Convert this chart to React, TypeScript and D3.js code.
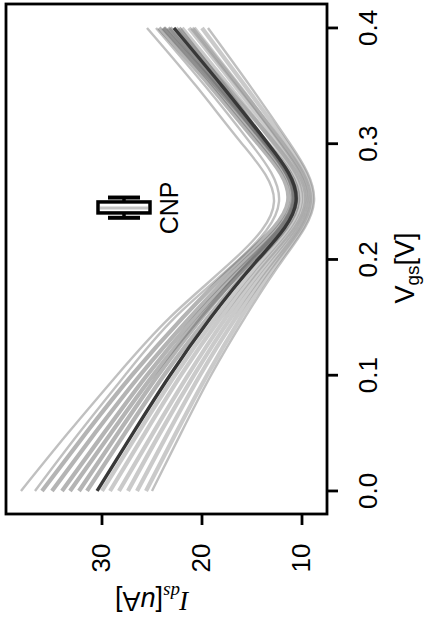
import React, { useEffect, useRef } from "react";
import * as d3 from "d3";

// Gate voltage samples shared by every device curve
const vgs = [0, 0.05, 0.1, 0.15, 0.2, 0.25, 0.3, 0.35, 0.4];

// Ids [uA] per device
const lightCurves = [
  [38.1, 33.4, 28.5, 23.2, 16.8, 12.8, 16.0, 20.6, 25.5],
  [36.7, 32.3, 27.7, 22.7, 16.3, 12.3, 15.1, 19.7, 24.6],
  [25.0, 22.1, 19.1, 15.7, 11.9, 8.8, 11.2, 15.2, 19.4],
];
const upperCurves = [
  [36.0, 31.6, 27.0, 21.9, 16.1, 11.4, 14.4, 19.2, 24.3],
  [35.0, 30.7, 26.2, 21.2, 15.6, 11.0, 14.0, 18.8, 23.9],
  [34.0, 29.8, 25.5, 20.7, 15.2, 10.8, 13.7, 18.3, 23.2],
  [33.2, 29.1, 24.9, 20.2, 14.9, 10.6, 13.6, 18.6, 23.8],
  [32.3, 28.4, 24.4, 20.0, 15.0, 10.9, 13.5, 17.8, 22.3],
  [31.5, 27.7, 23.8, 19.4, 14.4, 10.4, 13.4, 18.3, 23.4],
];
const lowerCurves = [
  [30.0, 26.4, 22.7, 18.6, 13.9, 10.1, 12.8, 17.3, 22.0],
  [29.2, 25.7, 22.1, 18.1, 13.5, 9.8, 12.7, 17.6, 22.6],
  [28.3, 24.9, 21.4, 17.6, 13.2, 9.6, 12.3, 16.7, 21.3],
  [27.4, 24.2, 20.8, 17.1, 12.8, 9.4, 12.0, 16.3, 20.8],
  [26.5, 23.4, 20.2, 16.6, 12.5, 9.2, 11.9, 16.4, 21.0],
  [25.6, 22.6, 19.5, 16.1, 12.2, 9.0, 11.5, 15.7, 20.0],
];
const meanCurve = [30.5, 26.9, 23.2, 19.1, 14.4, 10.6, 13.4, 18.0, 22.8];

// CNP boxplot: lower whisker, Q1, median, Q3, upper whisker (Vgs)
const cnpStats = [0.236, 0.2402, 0.2445, 0.2497, 0.2535];
const cnpAt = 27.8; // Ids position of the box

const vgsTicks = [0, 0.1, 0.2, 0.3, 0.4];
const idsTicks = [10, 20, 30];
const vgsLim: [number, number] = [-0.0199, 0.4207];
const idsLim: [number, number] = [7.5, 39.6];

const W = 426;
const H = 628;
const SANS = "'Liberation Sans', Arial, Helvetica, sans-serif";

export default function App() {
  const svgRef = useRef<SVGSVGElement>(null);

  useEffect(() => {
    if (!svgRef.current) return;
    const svg = d3.select(svgRef.current);
    svg.selectAll("*").remove();

    // plot is turned on its side: Vgs runs up the page, Ids runs right to left
    const y = d3.scaleLinear().domain(vgsLim).range([514, 4]);
    const x = d3.scaleLinear().domain(idsLim).range([327, 6]);

    const line = d3
      .line<number>()
      .x((d) => x(d))
      .y((_, i) => y(vgs[i]))
      .curve(d3.curveNatural);

    const curves = svg.append("g").attr("fill", "none").attr("stroke-linecap", "butt");

    curves
      .selectAll(".light")
      .data(lightCurves)
      .join("path")
      .attr("class", "light")
      .attr("d", line)
      .attr("stroke", "#b0b0b0")
      .attr("stroke-opacity", 0.8)
      .attr("stroke-width", 2.4);

    curves
      .selectAll(".lower")
      .data(lowerCurves)
      .join("path")
      .attr("class", "lower")
      .attr("d", line)
      .attr("stroke", "#8a8a8a")
      .attr("stroke-opacity", 0.45)
      .attr("stroke-width", 4.2);

    curves
      .selectAll(".upper")
      .data(upperCurves)
      .join("path")
      .attr("class", "upper")
      .attr("d", line)
      .attr("stroke", "#6a6a6a")
      .attr("stroke-opacity", 0.5)
      .attr("stroke-width", 4.2);

    curves
      .append("path")
      .attr("d", line(meanCurve))
      .attr("stroke", "#383838")
      .attr("stroke-width", 3.4);

    // frame
    svg
      .append("rect")
      .attr("x", x(idsLim[1]))
      .attr("y", y(vgsLim[1]))
      .attr("width", x(idsLim[0]) - x(idsLim[1]))
      .attr("height", y(vgsLim[0]) - y(vgsLim[1]))
      .attr("fill", "none")
      .attr("stroke", "#000")
      .attr("stroke-width", 2.8);

    // Vgs axis (right side)
    const right = x(idsLim[0]);
    const vAxis = svg.append("g");
    vAxis
      .selectAll("line")
      .data(vgsTicks)
      .join("line")
      .attr("x1", right)
      .attr("x2", right + 11)
      .attr("y1", (d) => y(d))
      .attr("y2", (d) => y(d))
      .attr("stroke", "#000")
      .attr("stroke-width", 2.8);
    vAxis
      .selectAll("text")
      .data(vgsTicks)
      .join("text")
      .attr("transform", (d) => `translate(${right + 50},${y(d)}) rotate(-90)`)
      .attr("text-anchor", "middle")
      .attr("font-family", SANS)
      .attr("font-size", 26)
      .text((d) => d3.format(".1f")(d));

    // Ids axis (bottom)
    const bottom = y(vgsLim[0]);
    const iAxis = svg.append("g");
    iAxis
      .selectAll("line")
      .data(idsTicks)
      .join("line")
      .attr("x1", (d) => x(d))
      .attr("x2", (d) => x(d))
      .attr("y1", bottom)
      .attr("y2", bottom + 11)
      .attr("stroke", "#000")
      .attr("stroke-width", 2.8);
    iAxis
      .selectAll("text")
      .data(idsTicks)
      .join("text")
      .attr("transform", (d) => `translate(${x(d) + 8},${bottom + 44}) rotate(-90)`)
      .attr("text-anchor", "middle")
      .attr("font-family", SANS)
      .attr("font-size", 26)
      .text((d) => String(d));

    // axis titles
    const vTitle = svg
      .append("text")
      .attr("transform", `translate(414,268) rotate(-90)`)
      .attr("text-anchor", "middle")
      .attr("font-family", SANS)
      .attr("font-size", 27);
    vTitle.append("tspan").text("V");
    vTitle.append("tspan").attr("dy", 5).attr("font-size", 19).text("gs");
    vTitle.append("tspan").attr("dy", -5).text("[V]");

    const iTitle = svg
      .append("text")
      .attr("transform", `translate(152,592) rotate(180)`)
      .attr("text-anchor", "middle")
      .attr("font-family", SANS)
      .attr("font-size", 27);
    iTitle
      .append("tspan")
      .attr("font-family", "'Liberation Serif', serif")
      .attr("font-style", "italic")
      .text("I");
    iTitle
      .append("tspan")
      .attr("dy", 6)
      .attr("font-size", 19)
      .attr("font-family", "'Liberation Serif', serif")
      .attr("font-style", "italic")
      .text("ds");
    iTitle.append("tspan").attr("dy", -6).text("[");
    iTitle.append("tspan").attr("font-style", "italic").text("u");
    iTitle.append("tspan").text("A]");

    // CNP boxplot
    const [lo, q1, med, q3, hi] = cnpStats;
    const half = 2.6;
    const staple = 1.6;
    const box = svg.append("g").attr("stroke", "#000").attr("stroke-width", 3.5);
    box
      .selectAll(".whisker")
      .data([
        [q3, hi],
        [q1, lo],
      ])
      .join("line")
      .attr("class", "whisker")
      .attr("x1", x(cnpAt))
      .attr("x2", x(cnpAt))
      .attr("y1", (d) => y(d[0]))
      .attr("y2", (d) => y(d[1]));
    box
      .selectAll(".staple")
      .data([hi, lo])
      .join("line")
      .attr("class", "staple")
      .attr("x1", x(cnpAt + staple))
      .attr("x2", x(cnpAt - staple))
      .attr("y1", (d) => y(d))
      .attr("y2", (d) => y(d))
      .attr("stroke-width", 4);
    box
      .append("rect")
      .attr("x", x(cnpAt + half))
      .attr("y", y(q3))
      .attr("width", x(cnpAt - half) - x(cnpAt + half))
      .attr("height", y(q1) - y(q3))
      .attr("fill", "#fff");
    box
      .append("line")
      .attr("x1", x(cnpAt + half) + 2)
      .attr("x2", x(cnpAt - half) - 2)
      .attr("y1", y(med))
      .attr("y2", y(med))
      .attr("stroke", "#c4c4c4")
      .attr("stroke-width", 3);

    svg
      .append("text")
      .attr("transform", `translate(${x(cnpAt - half) + 28},${y(med)}) rotate(-90)`)
      .attr("text-anchor", "middle")
      .attr("font-family", SANS)
      .attr("font-size", 25)
      .text("CNP");
  }, []);

  return (
    <svg
      ref={svgRef}
      width={W}
      height={H}
      style={{ position: "absolute", left: 0, top: 0, background: "#fff" }}
    />
  );
}
